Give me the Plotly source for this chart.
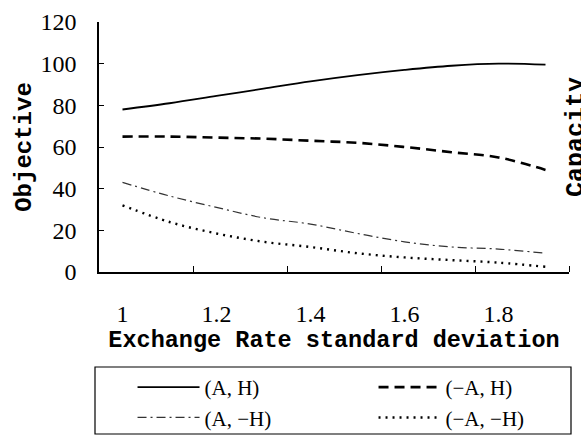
import plotly.graph_objects as go

x_vals = [1.0, 1.1, 1.2, 1.3, 1.4, 1.5, 1.6, 1.7, 1.8, 1.9]
series_names = ["(A, H)", "(\u2212A, H)", "(A, \u2212H)", "(\u2212A, \u2212H)"]
s_AH = [78, 81, 84.5, 88, 91.5, 94.5, 97, 99, 100, 99.5]
s_nAH = [65, 65, 64.5, 64, 63, 62, 60, 57.5, 55, 49]
s_AnH = [43, 36.5, 31, 26, 23, 18.5, 14.5, 12, 11, 9]
s_nAnH = [32, 24, 18.5, 14.5, 12, 9, 7, 5.7, 4.5, 2.5]
x_tick_vals = [1.0, 1.2, 1.4, 1.6, 1.8]
x_tick_text = ["1", "1.2", "1.4", "1.6", "1.8"]
x_minor_ticks = [1.15, 1.35, 1.55, 1.75, 1.95]
y_tick_vals = [0, 20, 40, 60, 80, 100, 120]

styles = [
    dict(color="black", width=1.8, dash="solid"),
    dict(color="black", width=2.6, dash="10px,6px"),
    dict(color="#333333", width=1.2, dash="9px,4px,2px,4px"),
    dict(color="black", width=2.4, dash="2px,5px"),
]

fig = go.Figure()
for name, ys, st in zip(series_names, [s_AH, s_nAH, s_AnH, s_nAnH], styles):
    fig.add_trace(go.Scatter(x=x_vals, y=ys, mode="lines", name=name,
                             line=dict(shape="spline", smoothing=1, **st)))

L, R, T, B = 99, 12, 22, 163
W, H = 581, 435
pw = W - L - R
ph = H - T - B

def px_x(p):
    return (p - L) / pw

def px_y(p):
    return (H - B - p) / ph

mono = "Liberation Mono"
serif = "Liberation Serif"

fig.update_layout(
    width=W, height=H,
    margin=dict(l=L, r=R, t=T, b=B, autoexpand=False),
    paper_bgcolor="white", plot_bgcolor="white",
    showlegend=True,
    legend=dict(orientation="h", x=-0.001, y=px_y(367), xanchor="left", yanchor="top",
                font=dict(family=serif, size=21, color="black"),
                itemwidth=62, entrywidth=130, entrywidthmode="pixels", indentation=34,
                bgcolor="rgba(0,0,0,0)", borderwidth=0, traceorder="normal"),
    xaxis=dict(range=[0.95, 1.95], tickmode="array", tickvals=x_tick_vals, ticktext=x_tick_text,
               ticks="", showgrid=False, zeroline=False, showline=True, linecolor="black", linewidth=1.5,
               tickfont=dict(family=serif, size=24, color="black"), ticklabelstandoff=19,
               minor=dict(tickmode="array", tickvals=x_minor_ticks, ticks="inside", ticklen=6,
                          tickcolor="black", tickwidth=1.2, showgrid=False),
               title=dict(text="<b>Exchange Rate standard deviation</b>",
                          font=dict(family=mono, size=23.5, color="black"), standoff=3)),
    yaxis=dict(range=[0, 120], tickmode="array", tickvals=y_tick_vals,
               ticks="inside", ticklen=5, tickcolor="black", tickwidth=1.2,
               showgrid=False, zeroline=False, showline=True, linecolor="black", linewidth=1.5,
               tickfont=dict(family=serif, size=24, color="black"), ticklabelstandoff=16,
               title=dict(text="<b>Objective</b>", font=dict(family=mono, size=24, color="black"), standoff=2)),
)

fig.add_shape(type="rect", xref="paper", yref="paper",
              x0=px_x(95), x1=px_x(571), y0=px_y(434), y1=px_y(367),
              line=dict(color="black", width=1.2))

fig.add_annotation(text="<b>Capacity</b>", xref="paper", yref="paper",
                   x=px_x(576), y=px_y(137), xanchor="center", yanchor="middle",
                   textangle=-90, showarrow=False,
                   font=dict(family=mono, size=25, color="black"))

fig.write_html("out.html")
